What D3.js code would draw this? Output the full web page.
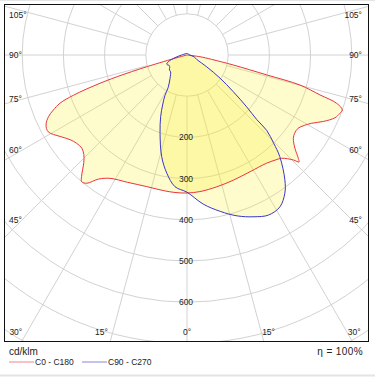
<!DOCTYPE html>
<html>
<head>
<meta charset="utf-8">
<script src="https://cdn.jsdelivr.net/npm/d3@7/dist/d3.min.js"></script>
<style>
  body{ margin:0; background:#fff; }
  svg{ display:block; }
  text{ font-family:"Liberation Sans", Arial, sans-serif; fill:#222; }
</style>
</head>
<body>
<svg id="ldc" width="375" height="377"></svg>
<script>

// gamma angle (deg from nadir) and intensity (cd/klm), per C plane
var c180Gamma = [0, 5, 10, 17, 25, 32, 35.5, 38, 39.7, 41, 43.8, 46, 48.5, 51.3, 54, 57.3, 61, 63.6, 66, 67.6, 69.2, 70.5, 72, 73, 74, 76, 90];
var c180Val   = [335, 335, 334, 334, 341, 353, 370, 395, 400, 390, 362, 348, 341, 343, 350, 366, 385, 382, 368, 351, 330, 292, 222, 160, 80, 8, 0];

var c0Gamma = [0, 5.4, 12.7, 20.3, 28.4, 36.3, 40, 42.5, 45.4, 46.3, 47.1, 49.2, 51.9, 54, 56.6, 59, 61.3, 64, 67, 69.1, 70.5, 72.1, 73.3, 75.1, 76, 77.8, 80, 82.5, 90];
var c0Val   = [335, 333, 328, 324, 322, 326, 333, 340, 363, 376, 369, 346, 328, 323, 323, 332, 345, 368, 390, 397, 400, 382, 337, 284, 199, 115, 60, 32, 0];

var c270Gamma = [0, 5.2, 9.7, 14, 19, 23.1, 26, 28.6, 30, 36, 44.3, 49.7, 54, 58.8, 65.4, 70.3, 77.3, 90];
var c270Val   = [333, 321, 291, 254, 201, 163, 135, 112, 92, 70, 57, 56, 52, 50, 54, 48, 30, 13];

var c90Gamma = [0, 6.2, 12, 17.3, 22.5, 27, 31.5, 35.3, 38.1, 42.4, 44.5, 46.6, 47.2, 49, 51.6, 55, 59, 65, 75, 90];
var c90Val   = [333, 364, 388, 409, 425, 436, 432, 411, 385, 334, 300, 266, 231, 192, 143, 98, 56, 27, 18, 7];
var c90Up = 4;   // value straight up (gamma 180)

var ringValues  = [100, 200, 300, 400, 500, 600, 700, 800, 900];
var ringLabels  = [200, 300, 400, 500, 600];
var sideTicks   = [45, 60, 75, 90, 105];
var bottomTicks = [-30, -15, 0, 15, 30];

var unitText = "cd/klm";
var etaText  = "\u03b7 = 100%";
var seriesNames = ["C0 - C180", "C90 - C270"];

// layout
var W = 375, H = 377;
var cx = 187, cy = 55;
var fx0 = 4, fy0 = 4, fx1 = 369, fy1 = 342;
var toRad = Math.PI/180;

var svg = d3.select("#ldc");
var r = d3.scaleLinear().domain([0, 100]).range([0, 41.2]);

svg.append("rect").attr("width", W).attr("height", H).attr("fill", "#fff");
svg.append("line").attr("x1", 0).attr("x2", W).attr("y1", 0.5).attr("y2", 0.5)
  .attr("stroke", "#e4e4e4");
svg.append("line").attr("x1", 0).attr("x2", W).attr("y1", 375.5).attr("y2", 375.5)
  .attr("stroke", "#e4e4e4").attr("stroke-width", 2);

svg.append("clipPath").attr("id", "frameClip")
  .append("rect")
    .attr("x", fx0).attr("y", fy0)
    .attr("width", fx1 - fx0).attr("height", fy1 - fy0);

var plot = svg.append("g").attr("clip-path", "url(#frameClip)");
var g = plot.append("g").attr("transform", "translate(" + cx + "," + cy + ")");

// grid circles
g.selectAll(".ring")
  .data(ringValues)
  .enter().append("circle")
    .attr("class", "ring")
    .attr("r", function(d){ return r(d); })
    .attr("fill", "none")
    .attr("stroke", "#d2d2d2")
    .attr("stroke-width", 1);

// radial lines every 15 deg, from the 100 ring outwards
g.selectAll(".spoke")
  .data(d3.range(0, 360, 15))
  .enter().append("line")
    .attr("class", "spoke")
    .attr("x1", function(d){ return r(100)*Math.sin(d*toRad); })
    .attr("y1", function(d){ return r(100)*Math.cos(d*toRad); })
    .attr("x2", function(d){ return 600*Math.sin(d*toRad); })
    .attr("y2", function(d){ return 600*Math.cos(d*toRad); })
    .attr("stroke", "#d2d2d2")
    .attr("stroke-width", 1);

// build curve points: left half uses angle pi+gamma, right half pi-gamma (d3 radial angles)
function halfPts(gam, val, side){
  return gam.map(function(a, i){
    return { a: Math.PI + side*a*toRad, v: val[i] };
  });
}
var redPts = halfPts(c180Gamma, c180Val, 1).reverse()
  .concat(halfPts(c0Gamma, c0Val, -1).slice(1));
var bluePts = [{ a: 2*Math.PI, v: c90Up }]
  .concat(halfPts(c270Gamma, c270Val, 1).reverse())
  .concat(halfPts(c90Gamma, c90Val, -1).slice(1))
  .concat([{ a: 0, v: c90Up }]);

var line = d3.lineRadial()
  .angle(function(d){ return d.a; })
  .radius(function(d){ return r(d.v); })
  .curve(d3.curveCatmullRom.alpha(0.5));

var fillCol = "rgb(250,238,40)";
[redPts, bluePts].forEach(function(pts){
  g.append("path")
    .attr("d", line(pts) + "Z")
    .attr("fill", fillCol)
    .attr("fill-opacity", 0.23)
    .attr("stroke", "none");
});

var red = "#e8353c", blue = "#3a36c8";
g.append("path").attr("d", line(redPts))
  .attr("fill", "none").attr("stroke", red).attr("stroke-width", 1);
g.append("path").attr("d", line(bluePts))
  .attr("fill", "none").attr("stroke", blue).attr("stroke-width", 1);

// frame
svg.append("rect")
  .attr("x", fx0 + 0.5).attr("y", fy0 + 0.5)
  .attr("width", fx1 - fx0 - 1).attr("height", fy1 - fy0 - 1)
  .attr("fill", "none").attr("stroke", "#111").attr("stroke-width", 1);

// ring value labels on the 0 deg axis
svg.selectAll(".ringLbl")
  .data(ringLabels)
  .enter().append("text")
    .attr("class", "ringLbl")
    .attr("x", cx - 1)
    .attr("y", function(d){ return cy + r(d); })
    .attr("dy", "0.35em")
    .attr("text-anchor", "middle")
    .attr("font-size", 8.5)
    .text(function(d){ return d; });

// angle labels at both sides
function sideY(a){
  return Math.max(15, cy + 165/Math.tan(a*toRad));
}
svg.selectAll(".sideL")
  .data(sideTicks)
  .enter().append("text")
    .attr("x", 9)
    .attr("y", function(d){ return sideY(d); })
    .attr("dy", "0.35em")
    .attr("font-size", 8.5)
    .text(function(d){ return d + "\u00b0"; });
svg.selectAll(".sideR")
  .data(sideTicks)
  .enter().append("text")
    .attr("x", 362)
    .attr("y", function(d){ return sideY(d); })
    .attr("dy", "0.35em")
    .attr("text-anchor", "end")
    .attr("font-size", 8.5)
    .text(function(d){ return d + "\u00b0"; });

// angle labels along the bottom
var by = 331.7;
svg.selectAll(".botL")
  .data(bottomTicks)
  .enter().append("text")
    .attr("x", function(d){
      var lx = cx + (by - cy)*Math.tan(d*toRad);
      return d < 0 ? lx - 5 : (d > 0 ? lx + 1 : cx);
    })
    .attr("y", by)
    .attr("dy", "0.35em")
    .attr("text-anchor", function(d){ return d < 0 ? "end" : (d > 0 ? "start" : "middle"); })
    .attr("font-size", 8.5)
    .text(function(d){ return Math.abs(d) + "\u00b0"; });

// legend
svg.append("text").attr("x", 9).attr("y", 355).attr("font-size", 10).text(unitText);
svg.append("text").attr("x", 363).attr("y", 355).attr("text-anchor", "end")
  .attr("font-size", 10).attr("letter-spacing", 0.4).text(etaText);

var legendX = [9, 82];
[red, blue].forEach(function(col, i){
  svg.append("line")
    .attr("x1", legendX[i]).attr("x2", legendX[i] + 25)
    .attr("y1", 362).attr("y2", 362)
    .attr("stroke", col).attr("stroke-opacity", 0.4).attr("stroke-width", 1.5);
  svg.append("text")
    .attr("x", legendX[i] + 26).attr("y", 365)
    .attr("font-size", 8.5)
    .text(seriesNames[i]);
});

</script>
</body>
</html>
